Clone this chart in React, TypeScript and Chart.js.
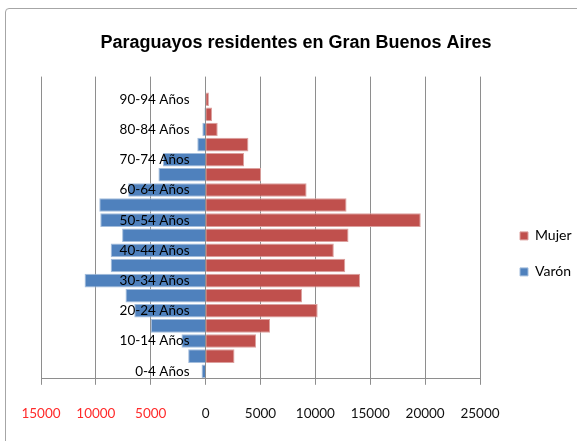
import React, { useEffect, useRef } from 'react';
import { Chart, registerables } from 'chart.js';

Chart.register(...registerables);

const ageGroups = [
  '0-4 Años', '5-9 Años', '10-14 Años', '15-19 Años', '20-24 Años',
  '25-29 Años', '30-34 Años', '35-39 Años', '40-44 Años', '45-49 Años',
  '50-54 Años', '55-59 Años', '60-64 Años', '65-69 Años', '70-74 Años',
  '75-79 Años', '80-84 Años', '85-89 Años', '90-94 Años', '95-99 Años',
];

const mujer = [0, 2630, 4590, 5870, 10210, 8780, 14070, 12720, 11680, 13020,
  19600, 12840, 9200, 5050, 3500, 3900, 1100, 580, 300, 0];

const varon = [370, 1590, 2200, 5000, 6500, 7300, 11030, 8650, 8650, 7610,
  9600, 9690, 7050, 4300, 3900, 760, 300, 100, 50, 0];

const seriesNames = ['Mujer', 'Varón'];
const title = 'Paraguayos residentes en Gran Buenos Aires';
const xMin = -15000;
const xMax = 25000;
const xStep = 5000;

export default function App() {
  const ref = useRef<HTMLCanvasElement | null>(null);

  useEffect(() => {
    if (!ref.current) return;
    const tickFont = { family: 'Lato', size: 13.5 };
    const chart = new Chart(ref.current, {
      type: 'bar',
      data: {
        labels: ageGroups,
        datasets: [
          {
            label: seriesNames[0],
            data: mujer,
            backgroundColor: '#C0504D',
            borderColor: '#DCA09E',
            borderWidth: 1,
            categoryPercentage: 1,
            barPercentage: 0.9,
          },
          {
            label: seriesNames[1],
            data: varon.map((v) => -v),
            backgroundColor: '#4F81BD',
            borderColor: '#A3BDDC',
            borderWidth: 1,
            categoryPercentage: 1,
            barPercentage: 0.9,
          },
        ],
      },
      options: {
        indexAxis: 'y',
        animation: false,
        responsive: false,
        devicePixelRatio: 1,
        layout: { padding: { left: 20, right: 5, top: 0, bottom: -2 } },
        scales: {
          x: {
            type: 'linear',
            stacked: true,
            min: xMin,
            max: xMax,
            ticks: {
              stepSize: xStep,
              padding: 21,
              font: tickFont,
              color: (ctx: any) => (ctx.tick && ctx.tick.value < 0 ? '#FF2A2A' : '#111111'),
              callback: (v: any) => String(Math.abs(Number(v))),
            },
            grid: { color: '#8E8E8E', tickLength: 6, lineWidth: 1 },
            border: { color: '#8E8E8E' },
          },
          y: {
            type: 'category',
            stacked: true,
            reverse: true,
            position: { x: -1470 } as any,
            grid: { display: false, drawTicks: false },
            border: { display: false },
            ticks: {
              z: 1,
              autoSkip: false,
              font: tickFont,
              color: '#000000',
              callback: (_v: any, i: number) => (i % 2 === 0 ? ageGroups[i] : ''),
            },
          },
          yL: {
            type: 'category',
            position: 'left',
            grid: { display: false, drawTicks: false },
            border: { display: false },
            ticks: { display: false },
            afterFit: (s: any) => { s.width = 21; },
          },
          yR: {
            type: 'category',
            position: 'right',
            grid: { display: false, drawTicks: false },
            border: { display: false },
            ticks: { display: false },
            afterFit: (s: any) => { s.width = 18; },
          },
        },
        plugins: {
          title: {
            display: true,
            text: title,
            color: '#000000',
            font: { family: 'Liberation Sans', size: 18, weight: 'bold' },
            padding: { top: 32, bottom: 23 },
          },
          legend: {
            position: 'right',
            align: 'center',
            maxWidth: 74,
            title: { display: true, text: ' ', padding: { top: 48, bottom: 0 }, font: { size: 14 } },
            labels: {
              boxWidth: 8,
              boxHeight: 8,
              padding: 22,
              color: '#000000',
              font: { family: 'Lato', size: 14 },
            },
          },
          tooltip: { enabled: false },
        },
      } as any,
    });
    return () => chart.destroy();
  }, []);

  return (
    <div style={{ position: 'fixed', left: 0, top: 0, width: 577, height: 441, overflow: 'hidden', background: '#fff' }}>
      <div style={{ position: 'absolute', left: 5, top: 8, width: 600, height: 500, border: '1px solid #A6A6A6', borderRadius: 4 }} />
      <canvas ref={ref} width={577} height={441} style={{ position: 'absolute', left: 0, top: 0 }} />
    </div>
  );
}
